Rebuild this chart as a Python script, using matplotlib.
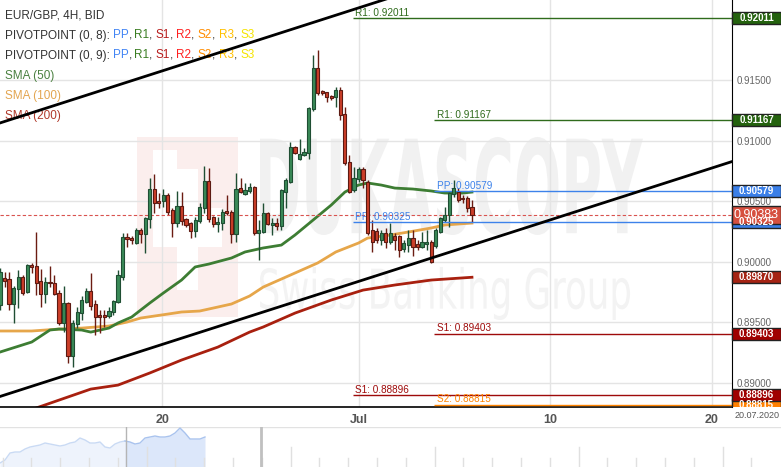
import numpy as np
import matplotlib
matplotlib.use("Agg")
import matplotlib.pyplot as plt
from matplotlib.patches import Rectangle, PathPatch
from matplotlib.textpath import TextPath
from matplotlib.font_manager import FontProperties
from matplotlib.transforms import Affine2D, Bbox, TransformedBbox, blended_transform_factory

plt.rcParams['font.family'] = ['Liberation Sans', 'DejaVu Sans']

# EUR/GBP 4H candles
opens = [
    0.89641, 0.89864, 0.89855, 0.89649, 0.89773, 0.89872, 0.89748, 0.89971, 0.89963, 0.89839,
    0.89731, 0.89831, 0.89822, 0.89740, 0.89492, 0.89657, 0.89219, 0.89484, 0.89574, 0.89665,
    0.89756, 0.89649, 0.89558, 0.89558, 0.89550, 0.89583, 0.89665, 0.89872, 0.90202, 0.90194,
    0.90153, 0.90260, 0.90227, 0.90351, 0.90599, 0.90500, 0.90500, 0.90550, 0.90426, 0.90318,
    0.90459, 0.90351, 0.90318, 0.90252, 0.90335, 0.90442, 0.90665, 0.90368, 0.90310, 0.90318,
    0.90417, 0.90409, 0.90227, 0.90607, 0.90558, 0.90583, 0.90616, 0.90236, 0.90244, 0.90401,
    0.90302, 0.90318, 0.90293, 0.90574, 0.90657, 0.90946, 0.90847, 0.90880, 0.90897, 0.91260,
    0.91599, 0.91409, 0.91401, 0.91368, 0.91359, 0.91417, 0.91219, 0.90822, 0.90591, 0.90682,
    0.90764, 0.90657, 0.90260, 0.90252, 0.90178, 0.90236, 0.90161, 0.90211, 0.90211, 0.90103,
    0.90136, 0.90194, 0.90145, 0.90120, 0.90145, 0.90161, 0.90128, 0.90244, 0.90343, 0.90383,
    0.90558, 0.90574, 0.90525, 0.90525, 0.90450]
highs = [
    0.89946, 0.89913, 0.89913, 0.89798, 0.89930, 0.89888, 0.89979, 0.89988, 0.90244, 0.89938,
    0.89872, 0.89963, 0.89888, 0.89764, 0.89798, 0.89665, 0.89517, 0.89624, 0.89715, 0.89781,
    0.89905, 0.89682, 0.89599, 0.89599, 0.89624, 0.89682, 0.89930, 0.90236, 0.90236, 0.90211,
    0.90277, 0.90277, 0.90368, 0.90690, 0.90723, 0.90566, 0.90599, 0.90566, 0.90442, 0.90583,
    0.90574, 0.90359, 0.90326, 0.90368, 0.90483, 0.90789, 0.90773, 0.90376, 0.90368, 0.90434,
    0.90550, 0.90426, 0.90731, 0.90690, 0.90649, 0.90649, 0.90624, 0.90343, 0.90483, 0.90409,
    0.90359, 0.90359, 0.90599, 0.90690, 0.90988, 0.90955, 0.91012, 0.90938, 0.91277, 0.91707,
    0.91748, 0.91417, 0.91401, 0.91376, 0.91442, 0.91442, 0.91277, 0.90880, 0.90781, 0.90781,
    0.90781, 0.90674, 0.90343, 0.90277, 0.90260, 0.90277, 0.90318, 0.90236, 0.90219, 0.90178,
    0.90260, 0.90260, 0.90178, 0.90244, 0.90260, 0.90178, 0.90277, 0.90368, 0.90450, 0.90574,
    0.90674, 0.90607, 0.90550, 0.90541, 0.90508]
lows = [
    0.89599, 0.89789, 0.89599, 0.89492, 0.89616, 0.89723, 0.89740, 0.89905, 0.89723, 0.89624,
    0.89657, 0.89789, 0.89723, 0.89475, 0.89417, 0.89161, 0.89128, 0.89450, 0.89517, 0.89657,
    0.89599, 0.89393, 0.89409, 0.89459, 0.89533, 0.89558, 0.89657, 0.89847, 0.90120, 0.90145,
    0.90145, 0.90153, 0.90070, 0.90277, 0.90401, 0.90442, 0.90450, 0.90383, 0.90202, 0.90285,
    0.90302, 0.90285, 0.90194, 0.90202, 0.90318, 0.90401, 0.90326, 0.90285, 0.90244, 0.90260,
    0.90383, 0.90153, 0.90161, 0.90566, 0.90550, 0.90566, 0.90219, 0.90012, 0.90236, 0.90302,
    0.90219, 0.90260, 0.90260, 0.90442, 0.90649, 0.90888, 0.90839, 0.90872, 0.90847, 0.91244,
    0.91376, 0.91376, 0.91318, 0.91335, 0.91277, 0.91169, 0.90797, 0.90566, 0.90574, 0.90657,
    0.90607, 0.90219, 0.90079, 0.90153, 0.90136, 0.90112, 0.90145, 0.90095, 0.90037, 0.90079,
    0.90079, 0.90045, 0.90095, 0.90112, 0.90095, 0.89988, 0.90112, 0.90236, 0.90326, 0.90285,
    0.90533, 0.90492, 0.90483, 0.90409, 0.90326]
closes = [
    0.89913, 0.89839, 0.89649, 0.89781, 0.89872, 0.89740, 0.89971, 0.89955, 0.89822, 0.89731,
    0.89831, 0.89822, 0.89731, 0.89492, 0.89657, 0.89219, 0.89492, 0.89583, 0.89682, 0.89756,
    0.89632, 0.89541, 0.89541, 0.89541, 0.89591, 0.89674, 0.89888, 0.90202, 0.90186, 0.90178,
    0.90260, 0.90227, 0.90359, 0.90599, 0.90483, 0.90483, 0.90550, 0.90409, 0.90318, 0.90459,
    0.90335, 0.90302, 0.90252, 0.90343, 0.90450, 0.90665, 0.90351, 0.90310, 0.90326, 0.90409,
    0.90401, 0.90227, 0.90599, 0.90574, 0.90591, 0.90616, 0.90236, 0.90260, 0.90401, 0.90310,
    0.90318, 0.90293, 0.90591, 0.90674, 0.90946, 0.90897, 0.90888, 0.90905, 0.91269, 0.91599,
    0.91392, 0.91392, 0.91359, 0.91351, 0.91417, 0.91211, 0.90814, 0.90574, 0.90690, 0.90764,
    0.90674, 0.90236, 0.90161, 0.90178, 0.90236, 0.90161, 0.90236, 0.90178, 0.90095, 0.90153,
    0.90194, 0.90120, 0.90120, 0.90161, 0.90161, 0.89996, 0.90260, 0.90359, 0.90383, 0.90566,
    0.90607, 0.90508, 0.90517, 0.90442, 0.90383]

# moving averages, sampled at bar indices
sma50_idx = [0, 7, 11, 13, 18, 20, 24, 26, 29, 33, 36, 40, 43, 46, 51, 54, 58, 62, 65, 69,
             73, 76, 79, 81, 84, 87, 91, 95, 98, 102, 104]
sma50 = [0.89252, 0.89335, 0.89434, 0.89442, 0.89434, 0.89417, 0.89450, 0.89492, 0.89541, 0.89657,
         0.89740, 0.89847, 0.89955, 0.89979, 0.90029, 0.90079, 0.90112, 0.90136, 0.90219, 0.90343,
         0.90467, 0.90574, 0.90632, 0.90649, 0.90632, 0.90607, 0.90599, 0.90583, 0.90566, 0.90566,
         0.90574]
sma100_idx = [0, 7, 13, 18, 24, 28, 31, 37, 40, 44, 48, 51, 55, 58, 65, 70, 74, 79, 81, 86,
              90, 95, 98, 104]
sma100 = [0.89426, 0.89426, 0.89442, 0.89450, 0.89467, 0.89500, 0.89533, 0.89566, 0.89583, 0.89591,
          0.89624, 0.89649, 0.89715, 0.89789, 0.89905, 0.89988, 0.90079, 0.90153, 0.90194, 0.90219,
          0.90244, 0.90277, 0.90302, 0.90318]
sma200_idx = [8, 20, 26, 33, 40, 48, 55, 58, 65, 73, 80, 87, 95, 104]
sma200 = [0.88790, 0.88946, 0.88979, 0.89079, 0.89186, 0.89293, 0.89417, 0.89459, 0.89574, 0.89682,
          0.89764, 0.89806, 0.89847, 0.89870]

# hand drawn trend channel (two anchor points each)
trend_idx = [0, 161.3]
trend_low = [0.88885, 0.90826]
trend_high = [0.91145, 0.93086]

# pivot points: monthly set and weekly set
piv_month_start = 77.7
piv_month_names = ['R1', 'PP', 'S1']
piv_month_vals = [0.92011, 0.90325, 0.88896]
piv_week_start = 95.7
piv_week_names = ['R1', 'PP', 'S1', 'S2']
piv_week_vals = [0.91167, 0.90579, 0.89403, 0.88815]

last_price = 0.90383

xtick_idx = [35.8, 79, 121.2, 156.9]
xtick_labels = ['20', 'Jul', '10', '20']
yticks = [0.890, 0.895, 0.900, 0.905, 0.910, 0.915]

# navigator overview line
nav_level = [4, 7, 14, 15, 15, 18, 20, 21, 22, 24, 23, 22, 21, 22, 24, 25, 29, 27, 24, 24, 25,
             20, 19, 23, 25, 26, 25, 23, 24, 29, 30, 31, 30, 30, 31, 34, 39, 34, 28, 28, 28, 30]

piv_colors = {'R1': '#2f6b1c', 'PP': '#3d82ea', 'S1': '#9e0a0a', 'S2': '#ff8400'}
box_colors = {'R1': '#24620e', 'PP': '#3a7fe8', 'S1': '#a00000', 'S2': '#ff8000'}

W, H = 781, 467
PR, PB = 732, 407
fig = plt.figure(figsize=(W / 100, H / 100), dpi=100)
ax = fig.add_axes([0, (H - PB) / H, PR / W, PB / H])
ax.set_xlim(0, 161.3)
ax.set_ylim(0.88798, 0.92161)
ymin, ymax = ax.get_ylim()
px_to_y = (ymax - ymin) / PB

for s in ['top', 'left']:
    ax.spines[s].set_visible(False)
ax.spines['right'].set_color('black')
ax.spines['bottom'].set_color('black')
ax.spines['bottom'].set_linewidth(1.2)
ax.set_axisbelow(True)
ax.grid(True, color='#e4e4e4', lw=1)

ax.yaxis.tick_right()
ax.set_yticks(yticks)
ax.set_yticklabels(['%.5f' % v for v in yticks])
ax.tick_params(axis='y', length=0, pad=3, labelsize=7, labelcolor='#666666')
ax.set_xticks(xtick_idx)
ax.set_xticklabels(xtick_labels)
ax.tick_params(axis='x', length=0, pad=5, labelsize=9, labelcolor='#555555')
for lab in ax.get_xticklabels():
    lab.set_fontweight('bold')

# watermark
def wm_text(s, x0, x1, y0, y1, color, weight):
    fp = FontProperties(family='DejaVu Sans', weight=weight)
    tp = TextPath((0, 0), s, size=10, prop=fp)
    ext = tp.get_extents()
    tr = (Affine2D().translate(-ext.x0, -ext.y0)
          .scale((x1 - x0) / ext.width, (y1 - y0) / ext.height)
          .translate(x0, y0) + ax.transAxes)
    ax.add_patch(PathPatch(tp, transform=tr, fc=color, ec='none', zorder=0.2))

ax.add_patch(Rectangle((0.1872, 0.2211), 0.1379, 0.4423, transform=ax.transAxes,
                       fc='#fbeeed', ec='none', zorder=0.1))
for (x0, y0, w, h) in [(0.2090, 0.3931, 0.0328, 0.2383), (0.2418, 0.2875, 0.0287, 0.2973),
                       (0.2705, 0.3931, 0.0328, 0.0958)]:
    ax.add_patch(Rectangle((x0, y0), w, h, transform=ax.transAxes, fc='white', ec='none', zorder=0.15))
wm_text('DUKASCOPY', 0.3552, 0.8784, 0.4226, 0.6634, '#f1f1f1', 'bold')
wm_text('Swiss Banking Group', 0.3552, 0.8607, 0.2138, 0.3440, '#f3f3f3', 'normal')

# moving averages
ax.plot(sma200_idx, sma200, color='#a8200f', lw=2, zorder=2.5)
ax.plot(sma100_idx, sma100, color='#e6a64a', lw=2, zorder=2.5)
ax.plot(sma50_idx, sma50, color='#3d7d33', lw=2, zorder=2.5)

# candles
o, hi, lo, c = map(np.array, (opens, highs, lows, closes))
idx = np.arange(len(c))
up = c >= o
body = np.maximum(np.abs(c - o), 0.00003)
bottom = np.minimum(o, c)
ax.vlines(idx[up], lo[up], hi[up], color='#1f4e33', lw=1, zorder=3)
ax.vlines(idx[~up], lo[~up], hi[~up], color='#6b1c12', lw=1, zorder=3)
ax.bar(idx[up], body[up], bottom=bottom[up], width=0.7, color='#3a8a58',
       edgecolor='#1f4e33', lw=0.8, zorder=4)
ax.bar(idx[~up], body[~up], bottom=bottom[~up], width=0.7, color='#cc3f29',
       edgecolor='#5c1a12', lw=0.8, zorder=4)

# trend channel
ax.plot(trend_idx, trend_low, color='black', lw=2, zorder=5)
ax.plot(trend_idx, trend_high, color='black', lw=2, zorder=5)

# last price
ax.axhline(last_price, color='#d9534f', lw=0.8, ls=(0, (3, 2)), zorder=3)

# pivot lines with labels
xmax = ax.get_xlim()[1]
for start, names, vals in [(piv_month_start, piv_month_names, piv_month_vals),
                           (piv_week_start, piv_week_names, piv_week_vals)]:
    for n, v in zip(names, vals):
        col = piv_colors[n]
        ax.hlines(v, start, xmax, color=col, lw=1, zorder=3)
        ax.text(start + 0.6, v + 0.5 * px_to_y, '%s: %.5f' % (n, v), color=col,
                fontsize=7.2, va='bottom', ha='left', zorder=3)

# price boxes on the right (clipped at the bottom of the plot like the original)
trans = blended_transform_factory(ax.transAxes, ax.transData)
clip = TransformedBbox(Bbox([[0, 0], [1.2, 1.05]]), ax.transAxes)
box_w = 49 / PR

def price_box(v, fc, h_px=12, fs=7, weight='bold'):
    hd = h_px * px_to_y
    r = Rectangle((1.0, v - hd / 2), box_w, hd, transform=trans, fc=fc, ec='#222222',
                  lw=1, zorder=6)
    ax.add_patch(r)
    r.set_clip_path(None)
    r.set_clip_box(clip)
    r.set_clip_on(True)
    t = ax.text(1.0 + box_w / 2, v, '%.5f' % v, transform=trans, ha='center', va='center',
                color='white', fontsize=fs, fontweight=weight, zorder=7)
    t.set_clip_box(clip)
    t.set_clip_on(True)

boxes = []
for names, vals in [(piv_month_names, piv_month_vals), (piv_week_names, piv_week_vals)]:
    for n, v in zip(names, vals):
        boxes.append((v, box_colors[n]))
boxes.append((sma200[-1], '#a52313'))
for v, col in sorted(boxes, key=lambda b: b[0]):
    price_box(v, col)
price_box(last_price, '#d6503f', h_px=18, fs=9, weight='normal')

# legend text in the top left corner
renderer = fig.canvas.get_renderer()
fp = FontProperties(family='Liberation Sans', size=8.5)

def text_w(s):
    w1 = renderer.get_text_width_height_descent(s + '|', fp, ismath=False)[0]
    w0 = renderer.get_text_width_height_descent('|', fp, ismath=False)[0]
    return w1 - w0

dark = '#333333'
piv_parts = [('PP', '#4285f4'), (', ', dark), ('R1', '#3a7d22'), (', ', dark),
             ('S1', '#b71c1c'), (', ', dark), ('R2', '#ff1f1f'), (', ', dark),
             ('S2', '#ff8c00'), (', ', dark), ('R3', '#ffc000'), (', ', dark),
             ('S3', '#f5e400')]
legend_lines = [
    (15.5, [('EUR/GBP, 4H, BID', dark)]),
    (35.5, [('PIVOTPOINT (0, 8): ', dark)] + piv_parts),
    (55.5, [('PIVOTPOINT (0, 9): ', dark)] + piv_parts),
    (75.5, [('SMA (50)', '#4a8040')]),
    (95.5, [('SMA (100)', '#e3a550')]),
    (115.5, [('SMA (200)', '#b0392a')]),
]
for ypx, parts in legend_lines:
    prefix = ''
    for s, col in parts:
        xpx = 5 + text_w(prefix)
        ax.text(xpx / PR, 1 - ypx / PB, s, transform=ax.transAxes, fontproperties=fp,
                color=col, va='center', ha='left', zorder=3)
        prefix += s

fig.text(757 / W, 1 - 416 / H, '20.07.2020', ha='center', va='center', fontsize=6.5,
         color='#555555')

# navigator strip
nav = fig.add_axes([0, 0, 1, 40 / H])
nav.set_xlim(0, 156.2)
nav.set_ylim(0, 40)
nav.axis('off')
nav.axhline(40, color='#e2e2e2', lw=1)
k = np.arange(len(nav_level))
lv = np.array(nav_level)
nav.fill_between(k[:26], 0, lv[:26], color='#eef3fc', lw=0)
nav.plot(k[:26], lv[:26], color='#c9daf4', lw=1)
nav.fill_between(k[25:], 0, lv[25:], color='#dce7fa', lw=0)
nav.plot(k[25:], lv[25:], color='#a9c3ee', lw=1)
for j, tx in enumerate(np.arange(0.5, 156, 5.76)):
    top = 20 if (j % 5 == 0 and j > 0) else 9
    nav.plot([tx, tx], [0, top], color='#e0e0e0', lw=1)
nav.plot([25.2, 25.2], [0, 40], color='#b5b5b5', lw=1)
nav.plot([52.2, 52.2], [0, 40], color='#c0c0c0', lw=2)

fig.savefig('out.png', dpi=100)
